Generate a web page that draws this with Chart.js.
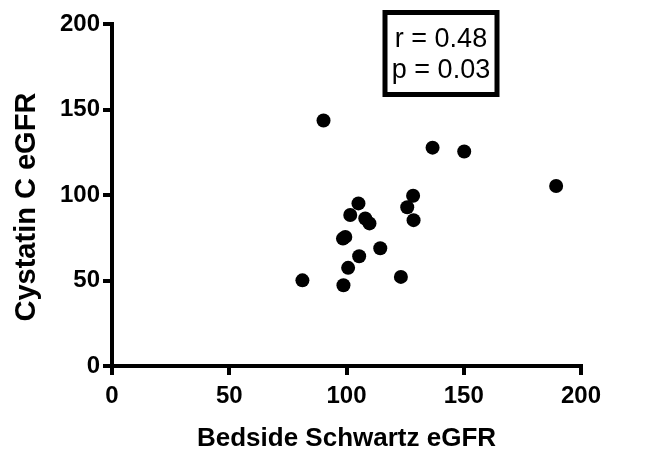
<!DOCTYPE html>
<html>
<head>
<meta charset="utf-8">
<script src="https://cdn.jsdelivr.net/npm/chart.js@4/dist/chart.umd.min.js"></script>
<style>
html,body{margin:0;padding:0;background:#fff;}
#wrap{width:661px;height:455px;}
</style>
</head>
<body>
<div id="wrap"><canvas id="c" width="661" height="455"></canvas></div>
<script>
// Data
const schwartzEGFR = [90.2, 136.7, 150.2, 189.4, 128.4, 125.9, 128.6, 105.1, 101.6, 108.0, 109.8, 99.5, 98.5, 114.4, 105.4, 100.7, 81.2, 98.7, 123.2];
const cystatinEGFR = [143.6, 127.7, 125.4, 105.3, 99.6, 92.8, 85.3, 95.1, 88.3, 86.3, 83.4, 75.5, 74.5, 68.9, 64.2, 57.4, 50.1, 47.2, 52.1];
const xTicks = [0, 50, 100, 150, 200];
const yTicks = [0, 50, 100, 150, 200];
const statLines = ['r = 0.48', 'p = 0.03'];
const xTitle = 'Bedside Schwartz eGFR';
const yTitle = 'Cystatin C eGFR   ';

const points = schwartzEGFR.map((x, i) => ({x: x, y: cystatinEGFR[i]}));

const BOLD = "'Liberation Sans', Arial, Helvetica, sans-serif";
const REG = "'Liberation Sans', Arial, Helvetica, sans-serif";

const statBox = {
  id: 'statBox',
  afterDraw(chart) {
    const ctx = chart.ctx;
    ctx.save();
    ctx.strokeStyle = '#000';
    ctx.lineWidth = 5;
    ctx.strokeRect(385, 12.5, 112, 82);
    ctx.fillStyle = '#000';
    ctx.font = '27px ' + REG;
    ctx.textAlign = 'center';
    ctx.textBaseline = 'alphabetic';
    ctx.fillText(statLines[0], 441, 47);
    ctx.fillText(statLines[1], 441, 78);
    ctx.restore();
  }
};

new Chart(document.getElementById('c'), {
  type: 'scatter',
  data: {
    datasets: [{
      data: points,
      backgroundColor: '#000',
      borderColor: '#000',
      borderWidth: 0,
      pointRadius: 7,
      pointHoverRadius: 7
    }]
  },
  options: {
    responsive: false,
    animation: false,
    events: [],
    layout: {padding: {top: 24, right: 80, left: 0, bottom: 0}},
    plugins: {legend: {display: false}, tooltip: {enabled: false}},
    scales: {
      x: {
        type: 'linear',
        min: 0, max: 200,
        afterBuildTicks(s) { s.ticks = xTicks.map(v => ({value: v})); },
        afterFit(s) { s.height = 89; },
        border: {display: true, color: '#000', width: 4},
        grid: {display: true, drawOnChartArea: false, drawTicks: true, tickLength: 9, lineWidth: 4, color: '#000', tickColor: '#000'},
        ticks: {color: '#000', font: {family: BOLD, size: 24, weight: 'bold'}, padding: 7, maxRotation: 0},
        title: {display: true, text: xTitle, color: '#000', font: {family: BOLD, size: 26, weight: 'bold'}, padding: {top: 0, bottom: 1}}
      },
      y: {
        type: 'linear',
        min: 0, max: 200,
        afterBuildTicks(s) { s.ticks = yTicks.map(v => ({value: v})); },
        afterFit(s) { s.width = 112; },
        border: {display: true, color: '#000', width: 4},
        grid: {display: true, drawOnChartArea: false, drawTicks: true, tickLength: 9, lineWidth: 4, color: '#000', tickColor: '#000'},
        ticks: {color: '#000', font: {family: BOLD, size: 24, weight: 'bold'}, padding: 3},
        title: {display: true, text: yTitle, color: '#000', font: {family: BOLD, size: 29, weight: 'bold'}, padding: {top: 10, bottom: 0}}
      }
    }
  },
  plugins: [statBox]
});
</script>
</body>
</html>
